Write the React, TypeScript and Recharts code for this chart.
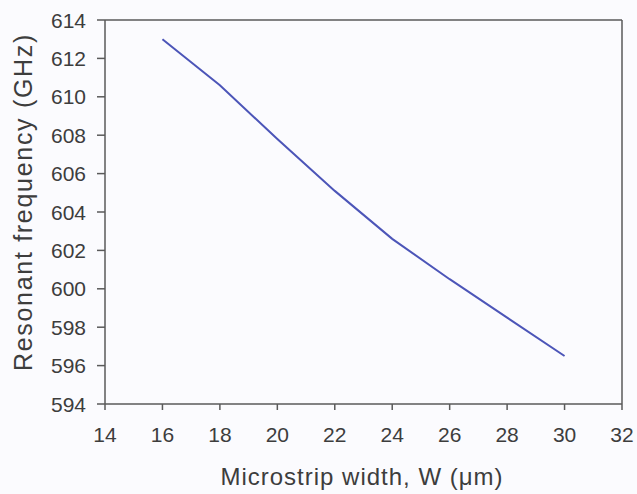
import React from 'react';
import { LineChart, Line, XAxis, YAxis, ReferenceLine } from 'recharts';

const widths = [16, 18, 20, 22, 24, 26, 28, 30];
const frequencies = [613.0, 610.6, 607.8, 605.1, 602.6, 600.5, 598.5, 596.5];
const xTicks = [14, 16, 18, 20, 22, 24, 26, 28, 30, 32];
const yTicks = [594, 596, 598, 600, 602, 604, 606, 608, 610, 612, 614];

const data = widths.map((w, i) => ({ w, f: frequencies[i] }));

const FONT = '"Liberation Sans", Arial, sans-serif';
const TEXT = '#3d3d3d';
const AXIS = '#5a5a5a';

const XLabel = () => (
  <text x={362} y={485} textAnchor="middle" fontFamily={FONT} fontSize={24} letterSpacing={1} fill={TEXT}>
    Microstrip width, W (μm)
  </text>
);

const YLabel = () => (
  <text x={32} y={202} transform="rotate(-90, 32, 202)" textAnchor="middle" fontFamily={FONT} fontSize={25} letterSpacing={1.7} fill={TEXT}>
    Resonant frequency (GHz)
  </text>
);

const XTick = (props: any) => {
  const { x, y, payload } = props;
  return (
    <text x={x} y={y + 27} textAnchor="middle" fontFamily={FONT} fontSize={21} fill={TEXT}>
      {payload.value}
    </text>
  );
};

const YTick = (props: any) => {
  const { x, y, payload } = props;
  return (
    <text x={x} y={y + 7.5} textAnchor="end" fontFamily={FONT} fontSize={21} fill={TEXT}>
      {payload.value}
    </text>
  );
};

export default function App() {
  return (
    <div style={{ position: 'absolute', left: 0, top: 0, width: 637, height: 494, background: '#fbfbfe' }}>
      <LineChart width={637} height={494} data={data} margin={{ top: 20, right: 15, bottom: 60, left: 0 }}>
        <XAxis
          dataKey="w"
          type="number"
          domain={[14, 32]}
          ticks={xTicks}
          interval={0}
          height={30}
          tickSize={6}
          tickMargin={5}
          stroke={AXIS}
          strokeWidth={1.5}
          tick={<XTick />}
          label={<XLabel />}
        />
        <YAxis
          type="number"
          domain={[594, 614]}
          ticks={yTicks}
          interval={0}
          width={105}
          tickSize={8}
          tickMargin={11}
          stroke={AXIS}
          strokeWidth={1.5}
          tick={<YTick />}
          label={<YLabel />}
        />
        <ReferenceLine y={614} stroke={AXIS} strokeWidth={1.5} />
        <ReferenceLine x={32} stroke={AXIS} strokeWidth={1.5} />
        <Line
          type="linear"
          dataKey="f"
          stroke="#4c55b8"
          strokeWidth={2}
          dot={false}
          isAnimationActive={false}
        />
      </LineChart>
    </div>
  );
}
